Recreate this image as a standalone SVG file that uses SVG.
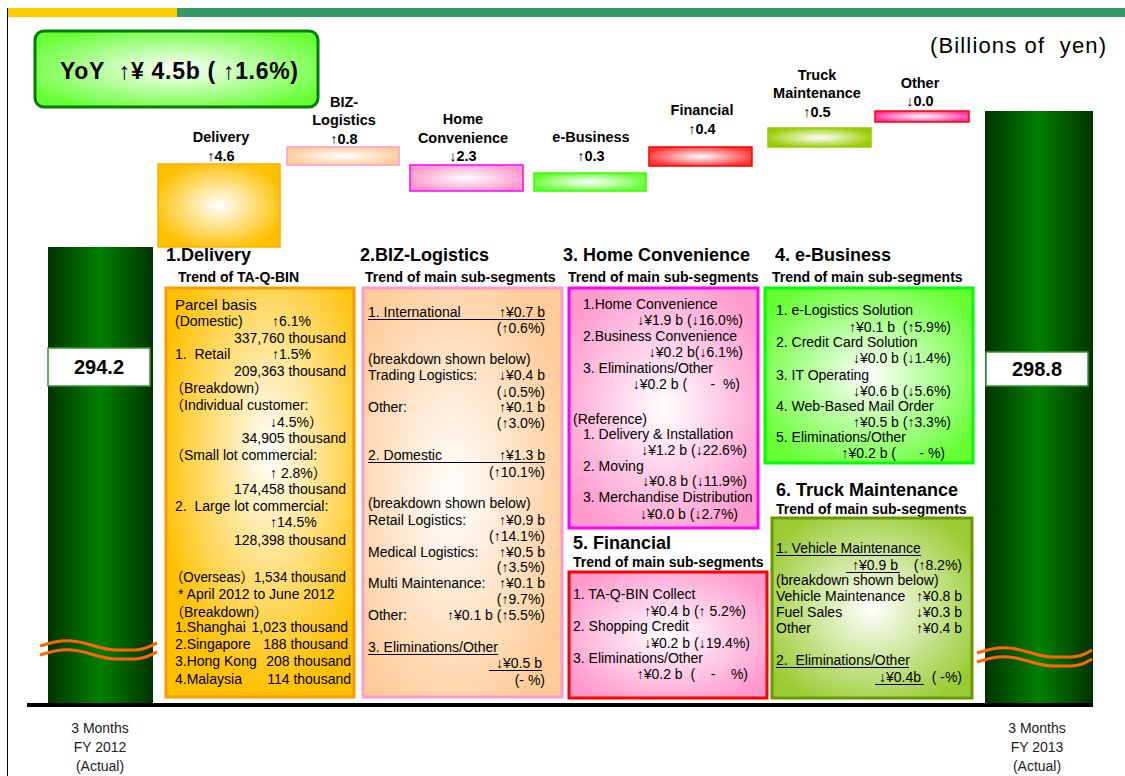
<svg xmlns="http://www.w3.org/2000/svg" width="1125" height="776" viewBox="0 0 1125 776">
<defs>
<style>
.t{font-family:"Liberation Sans","Noto Sans CJK JP",sans-serif;font-size:14px;fill:#000}
.b{font-weight:bold}
.h{font-size:18px;font-weight:bold}
.s{font-size:14px;font-weight:bold}
.lb{font-size:14.5px;font-weight:bold}
.r{text-anchor:end}
.m{text-anchor:middle}
.ul{stroke:#000;stroke-width:1.2}
.brk{fill:none;stroke:#FF6600;stroke-width:3}
</style>
<linearGradient id="gBar" x1="0" y1="0" x2="1" y2="0">
<stop offset="0" stop-color="#003300"/><stop offset="0.5" stop-color="#008000"/><stop offset="1" stop-color="#003300"/>
</linearGradient>
<radialGradient id="gYoY" cx="0.5" cy="0.5" r="0.6"><stop offset="0" stop-color="#fff"/><stop offset="1" stop-color="#66FF33"/></radialGradient>
<radialGradient id="gDel" cx="0.5" cy="0.5" r="0.55"><stop offset="0" stop-color="#fff"/><stop offset="1" stop-color="#FFC000"/></radialGradient>
<radialGradient id="gBiz" cx="0.5" cy="0.5" r="0.55"><stop offset="0" stop-color="#fff"/><stop offset="1" stop-color="#FFCC99"/></radialGradient>
<radialGradient id="gHome" cx="0.5" cy="0.5" r="0.55"><stop offset="0" stop-color="#fff"/><stop offset="1" stop-color="#FF99CC"/></radialGradient>
<radialGradient id="gEb" cx="0.5" cy="0.5" r="0.55"><stop offset="0" stop-color="#fff"/><stop offset="1" stop-color="#66FF33"/></radialGradient>
<radialGradient id="gFin" cx="0.5" cy="0.5" r="0.55"><stop offset="0" stop-color="#fff"/><stop offset="1" stop-color="#FF3333"/></radialGradient>
<radialGradient id="gTruck" cx="0.5" cy="0.5" r="0.55"><stop offset="0" stop-color="#fff"/><stop offset="1" stop-color="#99CC00"/></radialGradient>
<radialGradient id="gOther" cx="0.5" cy="0.5" r="0.55"><stop offset="0" stop-color="#fff"/><stop offset="1" stop-color="#FF3399"/></radialGradient>
<radialGradient id="bDel" cx="0.55" cy="0.4" r="0.6"><stop offset="0" stop-color="#fff"/><stop offset="1" stop-color="#FFC000"/></radialGradient>
<radialGradient id="bBiz" cx="0.45" cy="0.5" r="0.6"><stop offset="0" stop-color="#fff"/><stop offset="1" stop-color="#FFCC99"/></radialGradient>
<radialGradient id="bHome" cx="0.5" cy="0.5" r="0.6"><stop offset="0" stop-color="#fff"/><stop offset="1" stop-color="#FF99CC"/></radialGradient>
<radialGradient id="bEb" cx="0.5" cy="0.5" r="0.6"><stop offset="0" stop-color="#fff"/><stop offset="1" stop-color="#66FF33"/></radialGradient>
<radialGradient id="bFin" cx="0.5" cy="0.5" r="0.6"><stop offset="0" stop-color="#fff"/><stop offset="1" stop-color="#FF99CC"/></radialGradient>
<radialGradient id="bTruck" cx="0.5" cy="0.5" r="0.6"><stop offset="0" stop-color="#fff"/><stop offset="1" stop-color="#99CC33"/></radialGradient>
</defs>
<rect width="1125" height="776" fill="#fff"/>
<g id="header">
<line x1="7.5" y1="8" x2="7.5" y2="776" stroke="#000" stroke-width="1"/>
<rect x="8" y="8" width="169" height="9" fill="#FFCC00"/>
<rect x="177" y="8" width="948" height="9" fill="#339966"/>
<text class="t" x="930" y="53" style="font-size:22px" textLength="176" lengthAdjust="spacing" xml:space="preserve">(Billions of  yen)</text>
</g>
<g id="yoy">
<rect x="35" y="31" width="283" height="76" rx="9" fill="url(#gYoY)" stroke="#008000" stroke-width="3"/>
<text class="t b" x="60" y="79" style="font-size:23px" textLength="238" lengthAdjust="spacing" xml:space="preserve">YoY  ↑¥ 4.5b ( ↑1.6%)</text>
</g>
<g id="axis">
<rect x="48" y="247" width="105" height="457" fill="url(#gBar)"/>
<rect x="985" y="111" width="108" height="593" fill="url(#gBar)"/>
<line x1="27" y1="705" x2="1093" y2="705" stroke="#000" stroke-width="4"/>
</g>
<g id="start-bar">
<rect x="48" y="348" width="102" height="38" fill="#fff" stroke="#339933" stroke-width="1.5"/>
<text class="t b m" x="99" y="374" style="font-size:20px">294.2</text>
<path class="brk" d="M40,646 C52,642 62,640 72,641 C88,642 100,650 116,650 L134,650 C145,650 150,646 157,643"/>
<path class="brk" d="M40,655 C52,651 62,649 72,650 C88,651 100,659 116,659 L134,659 C145,659 150,655 157,652"/>
<text class="t m" x="100" y="733" style="fill:#222">3 Months</text>
<text class="t m" x="100" y="752" style="fill:#222">FY 2012</text>
<text class="t m" x="100" y="771" style="fill:#222">(Actual)</text>
</g>
<g id="end-bar">
<rect x="986" y="352" width="102" height="34" fill="#fff" stroke="#339933" stroke-width="1.5"/>
<text class="t b m" x="1037" y="376" style="font-size:20px">298.8</text>
<path class="brk" d="M977,653 C989,649 999,647 1009,648 C1025,649 1037,657 1053,657 L1071,657 C1082,657 1087,653 1092,650"/>
<path class="brk" d="M977,662 C989,658 999,656 1009,657 C1025,658 1037,666 1053,666 L1071,666 C1082,666 1087,662 1092,659"/>
<text class="t m" x="1037" y="733" style="fill:#222">3 Months</text>
<text class="t m" x="1037" y="752" style="fill:#222">FY 2013</text>
<text class="t m" x="1037" y="771" style="fill:#222">(Actual)</text>
</g>
<g id="step-delivery">
<rect x="158" y="164" width="122" height="83" fill="url(#gDel)" stroke="#FFB000" stroke-width="1.5"/>
<text class="t lb m" x="221" y="142">Delivery</text>
<text class="t lb m" x="221" y="161">↑4.6</text>
</g>
<g id="step-biz">
<rect x="287" y="147" width="112" height="18" fill="url(#gBiz)" stroke="#FF99CC" stroke-width="1.5"/>
<text class="t lb m" x="344" y="107">BIZ-</text>
<text class="t lb m" x="344" y="125">Logistics</text>
<text class="t lb m" x="344" y="144">↑0.8</text>
</g>
<g id="step-home">
<rect x="410" y="165" width="113" height="26" fill="url(#gHome)" stroke="#FF00FF" stroke-width="1.5"/>
<text class="t lb m" x="463" y="124">Home</text>
<text class="t lb m" x="463" y="143">Convenience</text>
<text class="t lb m" x="463" y="161">↓2.3</text>
</g>
<g id="step-ebiz">
<rect x="534" y="173" width="112" height="18" fill="url(#gEb)" stroke="#33FF00" stroke-width="1.5"/>
<text class="t lb m" x="591" y="142">e-Business</text>
<text class="t lb m" x="591" y="161">↑0.3</text>
</g>
<g id="step-fin">
<rect x="649" y="147" width="103" height="19" fill="url(#gFin)" stroke="#FF0000" stroke-width="1.5"/>
<text class="t lb m" x="702" y="115">Financial</text>
<text class="t lb m" x="702" y="134">↑0.4</text>
</g>
<g id="step-truck">
<rect x="768" y="128" width="103" height="19" fill="url(#gTruck)" stroke="#99CC00" stroke-width="1.5"/>
<text class="t lb m" x="817" y="80">Truck</text>
<text class="t lb m" x="817" y="98">Maintenance</text>
<text class="t lb m" x="817" y="117">↑0.5</text>
</g>
<g id="step-other">
<rect x="875" y="111" width="94" height="11" fill="url(#gOther)" stroke="#FF0000" stroke-width="1.5"/>
<text class="t lb m" x="920" y="88">Other</text>
<text class="t lb m" x="920" y="106">↓0.0</text>
</g>
<g id="sec-delivery">
<text class="t h" x="166" y="261">1.Delivery</text>
<text class="t s" x="178" y="282">Trend of TA-Q-BIN</text>
<rect x="166" y="288" width="188" height="409" fill="url(#bDel)" stroke="#FF9900" stroke-width="3"/>
<text class="t" x="175" y="310" style="font-size:15px">Parcel basis</text>
<text class="t" x="175" y="326">(Domestic)</text><text class="t" x="272" y="326">↑6.1%</text>
<text class="t r" x="346" y="343">337,760 thousand</text>
<text class="t" x="175" y="359" xml:space="preserve">1.  Retail</text><text class="t" x="272" y="359">↑1.5%</text>
<text class="t r" x="346" y="376">209,363 thousand</text>
<text class="t" x="170" y="393">（Breakdown）</text>
<text class="t" x="170" y="410">（Individual customer:</text>
<text class="t" x="270" y="427">↓4.5%）</text>
<text class="t r" x="346" y="443">34,905 thousand</text>
<text class="t" x="170" y="460">（Small lot commercial:</text>
<text class="t" x="270" y="478" xml:space="preserve">↑ 2.8%）</text>
<text class="t r" x="346" y="494">174,458 thousand</text>
<text class="t" x="175" y="511" xml:space="preserve">2.  Large lot commercial:</text>
<text class="t" x="270" y="527">↑14.5%</text>
<text class="t r" x="346" y="545">128,398 thousand</text>
<text class="t" x="170" y="582" textLength="176" lengthAdjust="spacingAndGlyphs">（Overseas）1,534 thousand</text>
<text class="t" x="178" y="599">* April 2012 to June 2012</text>
<text class="t" x="170" y="617">（Breakdown）</text>
<text class="t" x="175" y="632">1.Shanghai</text><text class="t r" x="348" y="632">1,023 thousand</text>
<text class="t" x="175" y="649">2.Singapore</text><text class="t r" x="348" y="649">188 thousand</text>
<text class="t" x="175" y="666">3.Hong Kong</text><text class="t r" x="351" y="666">208 thousand</text>
<text class="t" x="175" y="684">4.Malaysia</text><text class="t r" x="351" y="684">114 thousand</text>
</g>
<g id="sec-biz">
<text class="t h" x="360" y="261">2.BIZ-Logistics</text>
<text class="t s" x="365" y="282">Trend of main sub-segments</text>
<rect x="363" y="288" width="199" height="409" fill="url(#bBiz)" stroke="#FF99CC" stroke-width="3"/>
<text class="t" x="368" y="317">1. International</text><text class="t r" x="545" y="317">↑¥0.7 b</text>
<line class="ul" x1="368" y1="319.5" x2="545" y2="319.5"/>
<text class="t r" x="545" y="333">(↑0.6%)</text>
<text class="t" x="368" y="364">(breakdown shown below)</text>
<text class="t" x="368" y="380">Trading Logistics:</text><text class="t r" x="545" y="380">↓¥0.4 b</text>
<text class="t r" x="545" y="397">(↓0.5%)</text>
<text class="t" x="368" y="412">Other:</text><text class="t r" x="545" y="412">↑¥0.1 b</text>
<text class="t r" x="545" y="428">(↑3.0%)</text>
<text class="t" x="368" y="460">2. Domestic</text><text class="t r" x="545" y="460">↑¥1.3 b</text>
<line class="ul" x1="368" y1="462.5" x2="545" y2="462.5"/>
<text class="t r" x="545" y="477">(↑10.1%)</text>
<text class="t" x="368" y="508">(breakdown shown below)</text>
<text class="t" x="368" y="525">Retail Logistics:</text><text class="t r" x="545" y="525">↑¥0.9 b</text>
<text class="t r" x="545" y="541">(↑14.1%)</text>
<text class="t" x="368" y="557">Medical Logistics:</text><text class="t r" x="545" y="557">↑¥0.5 b</text>
<text class="t r" x="545" y="572">(↑3.5%)</text>
<text class="t" x="368" y="588">Multi Maintenance:</text><text class="t r" x="545" y="588">↑¥0.1 b</text>
<text class="t r" x="545" y="604">(↑9.7%)</text>
<text class="t" x="368" y="620">Other:</text><text class="t r" x="545" y="620">↑¥0.1 b (↑5.5%)</text>
<text class="t" x="368" y="652">3. Eliminations/Other</text>
<line class="ul" x1="368" y1="654.5" x2="498" y2="654.5"/>
<text class="t r" x="542" y="668">↓¥0.5 b</text>
<line class="ul" x1="489" y1="670.5" x2="542" y2="670.5"/>
<text class="t r" x="545" y="685">(- %)</text>
</g>
<g id="sec-home">
<text class="t h" x="563" y="261">3. Home Convenience</text>
<text class="t s" x="568" y="282">Trend of main sub-segments</text>
<rect x="569" y="288" width="189" height="240" fill="url(#bHome)" stroke="#FF00FF" stroke-width="3"/>
<text class="t" x="583" y="309">1.Home Convenience</text>
<text class="t r" x="743" y="325">↓¥1.9 b (↓16.0%)</text>
<text class="t" x="583" y="341">2.Business Convenience</text>
<text class="t r" x="743" y="357">↓¥0.2 b(↓6.1%)</text>
<text class="t" x="583" y="373">3. Eliminations/Other</text>
<text class="t r" x="740" y="389" xml:space="preserve">↓¥0.2 b (      -  %)</text>
<text class="t" x="573" y="424">(Reference)</text>
<text class="t" x="583" y="439">1. Delivery &amp; Installation</text>
<text class="t r" x="747" y="455">↓¥1.2 b (↓22.6%)</text>
<text class="t" x="583" y="471">2. Moving</text>
<text class="t r" x="747" y="486">↓¥0.8 b (↓11.9%)</text>
<text class="t" x="583" y="502">3. Merchandise Distribution</text>
<text class="t r" x="738" y="519">↓¥0.0 b (↓2.7%)</text>
</g>
<g id="sec-ebiz">
<text class="t h" x="775" y="261">4. e-Business</text>
<text class="t s" x="772" y="282">Trend of main sub-segments</text>
<rect x="765" y="288" width="208" height="175" fill="url(#bEb)" stroke="#00FF00" stroke-width="3"/>
<text class="t" x="776" y="315">1. e-Logistics Solution</text>
<text class="t r" x="951" y="332" xml:space="preserve">↑¥0.1 b  (↑5.9%)</text>
<text class="t" x="776" y="347">2. Credit Card Solution</text>
<text class="t r" x="951" y="363">↓¥0.0 b (↓1.4%)</text>
<text class="t" x="776" y="380">3. IT Operating</text>
<text class="t r" x="951" y="396">↓¥0.6 b (↓5.6%)</text>
<text class="t" x="776" y="411">4. Web-Based Mail Order</text>
<text class="t r" x="951" y="427">↑¥0.5 b (↑3.3%)</text>
<text class="t" x="776" y="442">5. Eliminations/Other</text>
<text class="t r" x="945" y="458" xml:space="preserve">↑¥0.2 b (      - %)</text>
</g>
<g id="sec-fin">
<text class="t h" x="573" y="549">5. Financial</text>
<text class="t s" x="573" y="567">Trend of main sub-segments</text>
<rect x="569" y="572" width="198" height="126" fill="url(#bFin)" stroke="#FF0000" stroke-width="3"/>
<text class="t" x="573" y="599">1. TA-Q-BIN Collect</text>
<text class="t r" x="746" y="616" xml:space="preserve">↑¥0.4 b (↑ 5.2%)</text>
<text class="t" x="573" y="631">2. Shopping Credit</text>
<text class="t r" x="750" y="648">↓¥0.2 b (↓19.4%)</text>
<text class="t" x="573" y="663">3. Eliminations/Other</text>
<text class="t r" x="748" y="679" xml:space="preserve">↑¥0.2 b  (    -    %)</text>
</g>
<g id="sec-truck">
<text class="t h" x="776" y="496">6. Truck Maintenance</text>
<text class="t s" x="776" y="514">Trend of main sub-segments</text>
<rect x="772" y="518" width="200" height="180" fill="url(#bTruck)" stroke="#669900" stroke-width="3"/>
<text class="t" x="776" y="553">1. Vehicle Maintenance</text>
<line class="ul" x1="776" y1="555.5" x2="921" y2="555.5"/>
<text class="t" x="852" y="570">↑¥0.9 b</text>
<line class="ul" x1="846" y1="572.5" x2="900" y2="572.5"/>
<text class="t r" x="962" y="570">(↑8.2%)</text>
<text class="t" x="776" y="585">(breakdown shown below)</text>
<text class="t" x="776" y="601">Vehicle Maintenance</text><text class="t r" x="962" y="601">↑¥0.8 b</text>
<text class="t" x="776" y="617">Fuel Sales</text><text class="t r" x="962" y="617">↓¥0.3 b</text>
<text class="t" x="776" y="633">Other</text><text class="t r" x="962" y="633">↑¥0.4 b</text>
<text class="t" x="776" y="665" xml:space="preserve">2.  Eliminations/Other</text>
<line class="ul" x1="776" y1="667.5" x2="909" y2="667.5"/>
<text class="t" x="879" y="682">↓¥0.4b</text>
<line class="ul" x1="875" y1="684.5" x2="924" y2="684.5"/>
<text class="t r" x="962" y="682">( -%)</text>
</g>
</svg>
